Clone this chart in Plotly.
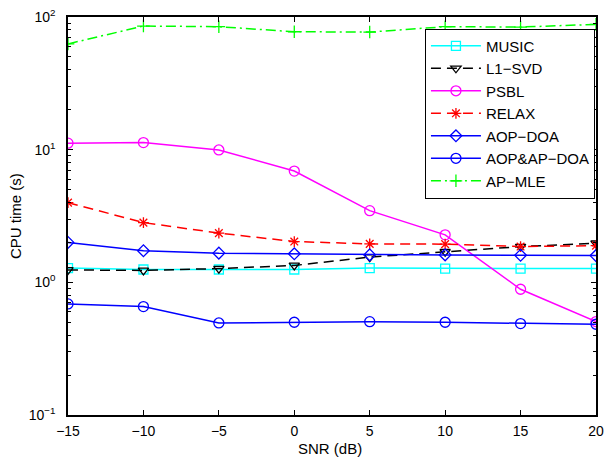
import plotly.graph_objects as go

# SNR sweep (dB)
snr = [-15, -10, -5, 0, 5, 10, 15, 20]

# CPU time (s) per algorithm
music = [1.28, 1.25, 1.25, 1.25, 1.28, 1.27, 1.27, 1.27]
l1_svd = [1.24, 1.23, 1.27, 1.34, 1.55, 1.70, 1.86, 1.97]
psbl = [11.2, 11.3, 9.95, 6.9, 3.47, 2.28, 0.887, 0.506]
relax = [3.99, 2.82, 2.35, 2.03, 1.95, 1.94, 1.86, 1.89]
aop_doa = [2.0, 1.73, 1.66, 1.64, 1.61, 1.61, 1.60, 1.59]
aop_ap_doa = [0.687, 0.656, 0.494, 0.50, 0.505, 0.50, 0.489, 0.483]
ap_mle = [62.7, 85.5, 84.5, 77.4, 77.0, 84.5, 84.0, 88.0]

y_tick_vals = [0.1, 1, 10, 100]
y_tick_text = ["10<sup>\u22121</sup>", "10<sup>0</sup>", "10<sup>1</sup>", "10<sup>2</sup>"]
x_tick_vals = [-15, -10, -5, 0, 5, 10, 15, 20]
x_tick_text = ["\u221215", "\u221210", "\u22125", "0", "5", "10", "15", "20"]

series = [
    ("MUSIC", music, "#00FFFF", "solid", "square-open"),
    ("L1\u2212SVD", l1_svd, "#000000", "10px,6px", "triangle-down-open"),
    ("PSBL", psbl, "#FF00FF", "solid", "circle-open"),
    ("RELAX", relax, "#FF0000", "10px,6px", "asterisk-open"),
    ("AOP\u2212DOA", aop_doa, "#0000FF", "solid", "diamond-open"),
    ("AOP&AP\u2212DOA", aop_ap_doa, "#0000FF", "solid", "circle-open"),
    ("AP\u2212MLE", ap_mle, "#00FF00", "10px,4px,2px,4px", "cross-thin-open"),
]

fig = go.Figure()
for name, vals, color, dash, symbol in series:
    fig.add_trace(go.Scatter(
        x=snr, y=vals, name=name, mode="lines+markers",
        line=dict(color=color, width=1.5, dash=dash),
        marker=dict(symbol=symbol, size=10 if "circle" in symbol else 9,
                    color=color, line=dict(color=color, width=1.3)),
    ))

font = "Liberation Sans, Arial, Helvetica, sans-serif"
axis_common = dict(
    showgrid=False, zeroline=False, showline=True, linecolor="black",
    linewidth=1.5, mirror="ticks", ticks="inside", ticklen=5, tickwidth=1,
    tickcolor="black", tickfont=dict(family=font, size=14, color="black"),
    automargin=False,
)

fig.update_layout(
    width=606, height=458,
    margin=dict(l=68, r=10, t=17, b=43),
    paper_bgcolor="white", plot_bgcolor="white",
    font=dict(family=font, color="black"),
    xaxis=dict(
        range=[-15, 20], tickvals=x_tick_vals, ticktext=x_tick_text,
        ticklabelstandoff=2,
        **axis_common,
    ),
    yaxis=dict(
        type="log", range=[-1, 2], tickvals=y_tick_vals, ticktext=y_tick_text,
        ticklabelstandoff=8,
        minor=dict(ticks="inside", ticklen=3, tickcolor="black",
                   tickvals=[m * 10 ** e for e in (-1, 0, 1) for m in range(2, 10)]),
        **axis_common,
    ),
    legend=dict(
        x=0.998, y=0.971, xanchor="right", yanchor="top",
        bgcolor="white", bordercolor="black", borderwidth=1,
        font=dict(family=font, size=15, color="black"),
        itemwidth=50,
    ),
    showlegend=True,
    annotations=[
        dict(text="SNR (dB)", xref="paper", yref="paper", x=0.496, y=0,
             yshift=-33, showarrow=False, font=dict(family=font, size=15),
             xanchor="center", yanchor="middle"),
        dict(text="CPU time (s)", xref="paper", yref="paper", x=0, y=0.5,
             xshift=-53, textangle=-90, showarrow=False,
             font=dict(family=font, size=15),
             xanchor="center", yanchor="middle"),
    ],
)

fig.write_html("out.html")
